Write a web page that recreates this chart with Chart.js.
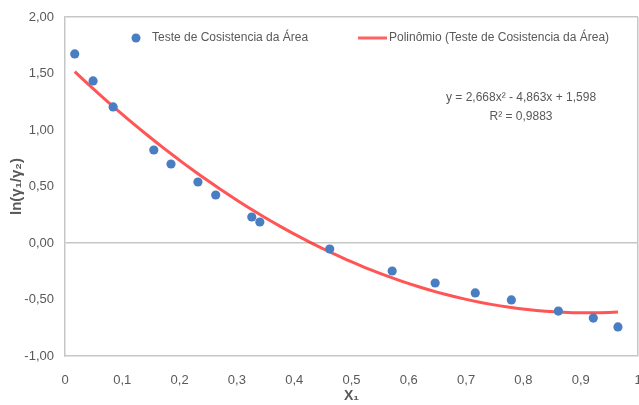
<!DOCTYPE html>
<html>
<head>
<meta charset="utf-8">
<script src="https://cdn.jsdelivr.net/npm/chart.js@4"></script>
<style>
  html, body { margin: 0; padding: 0; background: #fff; }
  #wrap { width: 639px; height: 405px; }
</style>
</head>
<body>
<div id="wrap"><canvas id="c" width="639" height="405"></canvas></div>
<script>
// Liquid-phase composition x1 and the measured ln(gamma1/gamma2)
const x1 = [0.017, 0.049, 0.084, 0.155, 0.185, 0.232, 0.263, 0.326, 0.340,
            0.462, 0.571, 0.646, 0.716, 0.779, 0.861, 0.922, 0.965];
const lnRatio = [1.673, 1.434, 1.204, 0.823, 0.699, 0.540, 0.425, 0.230, 0.186,
                 -0.053, -0.248, -0.354, -0.442, -0.504, -0.602, -0.664, -0.743];

// Second-order polynomial trend: a*x^2 + b*x + c, as printed on the chart
const trendCoef = [2.668, -4.863, 1.598];
const rSquared = '0,9883';

const seriesName = 'Teste de Cosistencia da Área';
const trendName = 'Polinômio (Teste de Cosistencia da Área)';
const yTitle = 'ln(γ\u2081/γ\u2082)';
const xTitle = 'X\u2081';

const FONT = '"Liberation Sans", Arial, sans-serif';
const TXT = '#595959';
const FRAME = '#c6c6c6';

// trend curve sampled along the measured range
const trendPts = [];
const xStart = x1[0], xEnd = x1[x1.length - 1];
const steps = 60;
for (let i = 0; i <= steps; i++) {
  const x = xStart + (xEnd - xStart) * i / steps;
  trendPts.push({ x: x, y: trendCoef[0] * x * x + trendCoef[1] * x + trendCoef[2] });
}

const fmt = (v, d) => v.toFixed(d).replace('.', ',');

// legend and equation text drawn inside the plot area
const overlay = {
  id: 'overlay',
  afterDraw(chart) {
    const ctx = chart.ctx;
    ctx.save();
    ctx.font = '12px ' + FONT;
    ctx.fillStyle = TXT;
    ctx.textBaseline = 'middle';
    // scatter legend entry
    ctx.fillStyle = '#4a7ec2';
    ctx.beginPath();
    ctx.arc(136, 38, 4.5, 0, Math.PI * 2);
    ctx.fill();
    ctx.fillStyle = TXT;
    ctx.textAlign = 'left';
    ctx.fillText(seriesName, 152, 38);
    // trend legend entry
    ctx.strokeStyle = 'rgba(255,70,70,0.85)';
    ctx.lineWidth = 3;
    ctx.beginPath();
    ctx.moveTo(358, 38);
    ctx.lineTo(387, 38);
    ctx.stroke();
    ctx.fillText(trendName, 389, 38);
    // equation and R²
    ctx.textAlign = 'center';
    const eq = 'y = ' + fmt(trendCoef[0], 3) + 'x\u00B2 - ' + fmt(-trendCoef[1], 3) +
               'x + ' + fmt(trendCoef[2], 3);
    ctx.fillText(eq, 521, 98);
    ctx.fillText('R\u00B2 = ' + rSquared, 521, 117);
    ctx.restore();
  }
};

new Chart(document.getElementById('c'), {
  type: 'scatter',
  data: {
    datasets: [
      {
        label: trendName,
        type: 'line',
        data: trendPts,
        borderColor: 'rgba(255,20,20,0.72)',
        borderWidth: 3,
        pointRadius: 0,
        fill: false,
        tension: 0,
        order: 1
      },
      {
        label: seriesName,
        data: x1.map((x, i) => ({ x: x, y: lnRatio[i] })),
        backgroundColor: '#4a7ec2',
        borderColor: '#4a7ec2',
        pointRadius: 4.6,
        borderWidth: 0,
        order: 0
      }
    ]
  },
  options: {
    responsive: false,
    animation: false,
    events: [],
    layout: { autoPadding: false, padding: { top: 17, right: 1, left: 0, bottom: 0 } },
    plugins: {
      legend: { display: false },
      tooltip: { enabled: false }
    },
    scales: {
      x: {
        type: 'linear',
        min: 0, max: 1,
        afterFit(s) { s.height = 49; s.paddingRight = 0; s.paddingLeft = 0; },
        border: { display: true, color: FRAME, width: 1.5 },
        grid: {
          drawTicks: false,
          color: (c) => (c.tick && Math.abs(c.tick.value - 1) < 1e-9) ? FRAME : 'rgba(0,0,0,0)',
          lineWidth: 1.5
        },
        ticks: {
          stepSize: 0.1,
          padding: 17,
          color: TXT,
          font: { family: FONT, size: 13 },
          callback: (v) => {
            const r = Math.round(v * 10) / 10;
            return (r === 0 || r === 1) ? String(r) : fmt(r, 1);
          }
        },
        title: {
          display: true,
          text: xTitle,
          color: TXT,
          font: { family: FONT, size: 14, weight: 'bold' },
          padding: { top: 0, bottom: 0 }
        }
      },
      y: {
        type: 'linear',
        min: -1, max: 2,
        afterFit(s) { s.width = 65; s.paddingTop = 0; s.paddingBottom = 0; },
        border: { display: true, color: FRAME, width: 1.5 },
        grid: {
          drawTicks: false,
          color: (c) => {
            const v = c.tick ? c.tick.value : NaN;
            return (Math.abs(v) < 1e-9 || Math.abs(v - 2) < 1e-9) ? FRAME : 'rgba(0,0,0,0)';
          },
          lineWidth: 1.5
        },
        ticks: {
          stepSize: 0.5,
          padding: 11,
          color: TXT,
          font: { family: FONT, size: 13 },
          callback: (v) => fmt(v, 2)
        },
        title: {
          display: true,
          text: yTitle,
          color: TXT,
          font: { family: FONT, size: 15, weight: 'bold' },
          padding: { top: 8, bottom: 0 }
        }
      }
    }
  },
  plugins: [overlay]
});
</script>
</body>
</html>
